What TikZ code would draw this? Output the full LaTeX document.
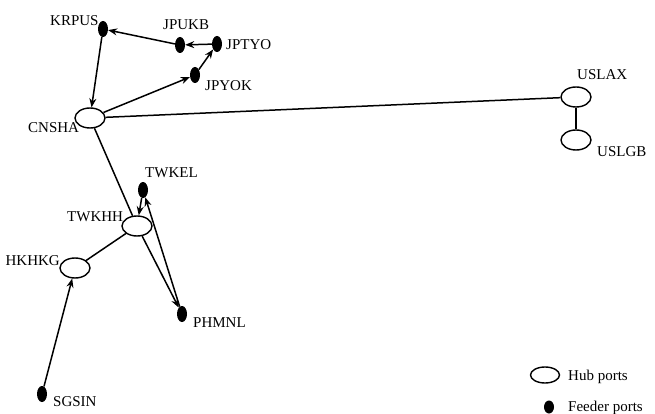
\documentclass[tikz,border=0pt]{standalone}
\usepackage{fontspec}
\setmainfont{Liberation Serif}
\usetikzlibrary{shapes.geometric,arrows.meta}

\tikzset{
  hub/.style={ellipse, draw, line width=1.4pt, minimum width=30pt, minimum height=20pt, inner sep=0pt},
  feeder/.style={ellipse, fill=black, minimum width=10pt, minimum height=16pt, inner sep=0pt},
  lbl/.style={font=\fontsize{15}{18}\selectfont, inner sep=0pt, anchor=base west},
  link/.style={line width=1.5pt},
  arr/.style={link, -{Stealth[length=9pt,width=7pt]}}
}

\begin{document}
\begin{tikzpicture}[x=1pt, y=-1pt]
\useasboundingbox (0,0) rectangle (655,414);

% hub ports
\node[hub] (CNSHA) at (90,118) {};
\node[hub] (USLAX) at (576,97) {};
\node[hub] (USLGB) at (576,140) {};
\node[hub] (TWKHH) at (137,226) {};
\node[hub] (HKHKG) at (75,268) {};

% feeder ports
\node[feeder] (KRPUS) at (103,29) {};
\node[feeder] (JPUKB) at (180,45) {};
\node[feeder] (JPTYO) at (217,44) {};
\node[feeder] (JPYOK) at (195,75) {};
\node[feeder] (TWKEL) at (143,190) {};
\node[feeder] (PHMNL) at (182,314) {};
\node[feeder] (SGSIN) at (42,394) {};

% port codes
\node[lbl] (tKRPUS) at (50,26) {KRPUS};
\node[lbl] (tJPUKB) at (163,30) {JPUKB};
\node[lbl] (tJPTYO) at (226,50) {JPTYO};
\node[lbl] (tJPYOK) at (205,91) {JPYOK};
\node[lbl] (tCNSHA) at (28,133) {CNSHA};
\node[lbl] (tUSLAX) at (577,80) {USLAX};
\node[lbl] (tUSLGB) at (597,157) {USLGB};
\node[lbl] (tTWKEL) at (145,178) {TWKEL};
\node[lbl] (tTWKHH) at (67,221) {TWKHH};
\node[lbl, anchor=base east] (tHKHKG) at (60,265) {HKHKG};
\node[lbl] (tPHMNL) at (193,327) {PHMNL};
\node[lbl] (tSGSIN) at (53,406) {SGSIN};

% service links
\draw[arr] (JPTYO) -- (JPUKB);
\draw[arr] (JPUKB) -- (KRPUS);
\draw[arr] (KRPUS) -- (CNSHA);
\draw[arr] (CNSHA) -- (JPYOK);
\draw[arr] (JPYOK) -- (JPTYO);
\draw[link] (CNSHA) -- (USLAX);
\draw[link] (USLAX) -- (USLGB);
\draw[link] (CNSHA) -- (TWKHH);
\draw[arr] (TWKHH) -- (PHMNL);
\draw[arr] (PHMNL) -- (TWKEL);
\draw[arr] (TWKEL) -- (TWKHH);
\draw[link] (TWKHH) -- (HKHKG);
\draw[arr] (SGSIN) -- (HKHKG);

% legend
\node[hub, minimum width=29pt, minimum height=16pt] (keyhub) at (545,375) {};
\node[feeder, minimum width=10pt, minimum height=13pt] (keyfeeder) at (549,407) {};
\node[lbl] (keyhubtxt) at (568,380) {Hub ports};
\node[lbl] (keyfeedertxt) at (568,411) {Feeder ports};
\end{tikzpicture}
\end{document}
